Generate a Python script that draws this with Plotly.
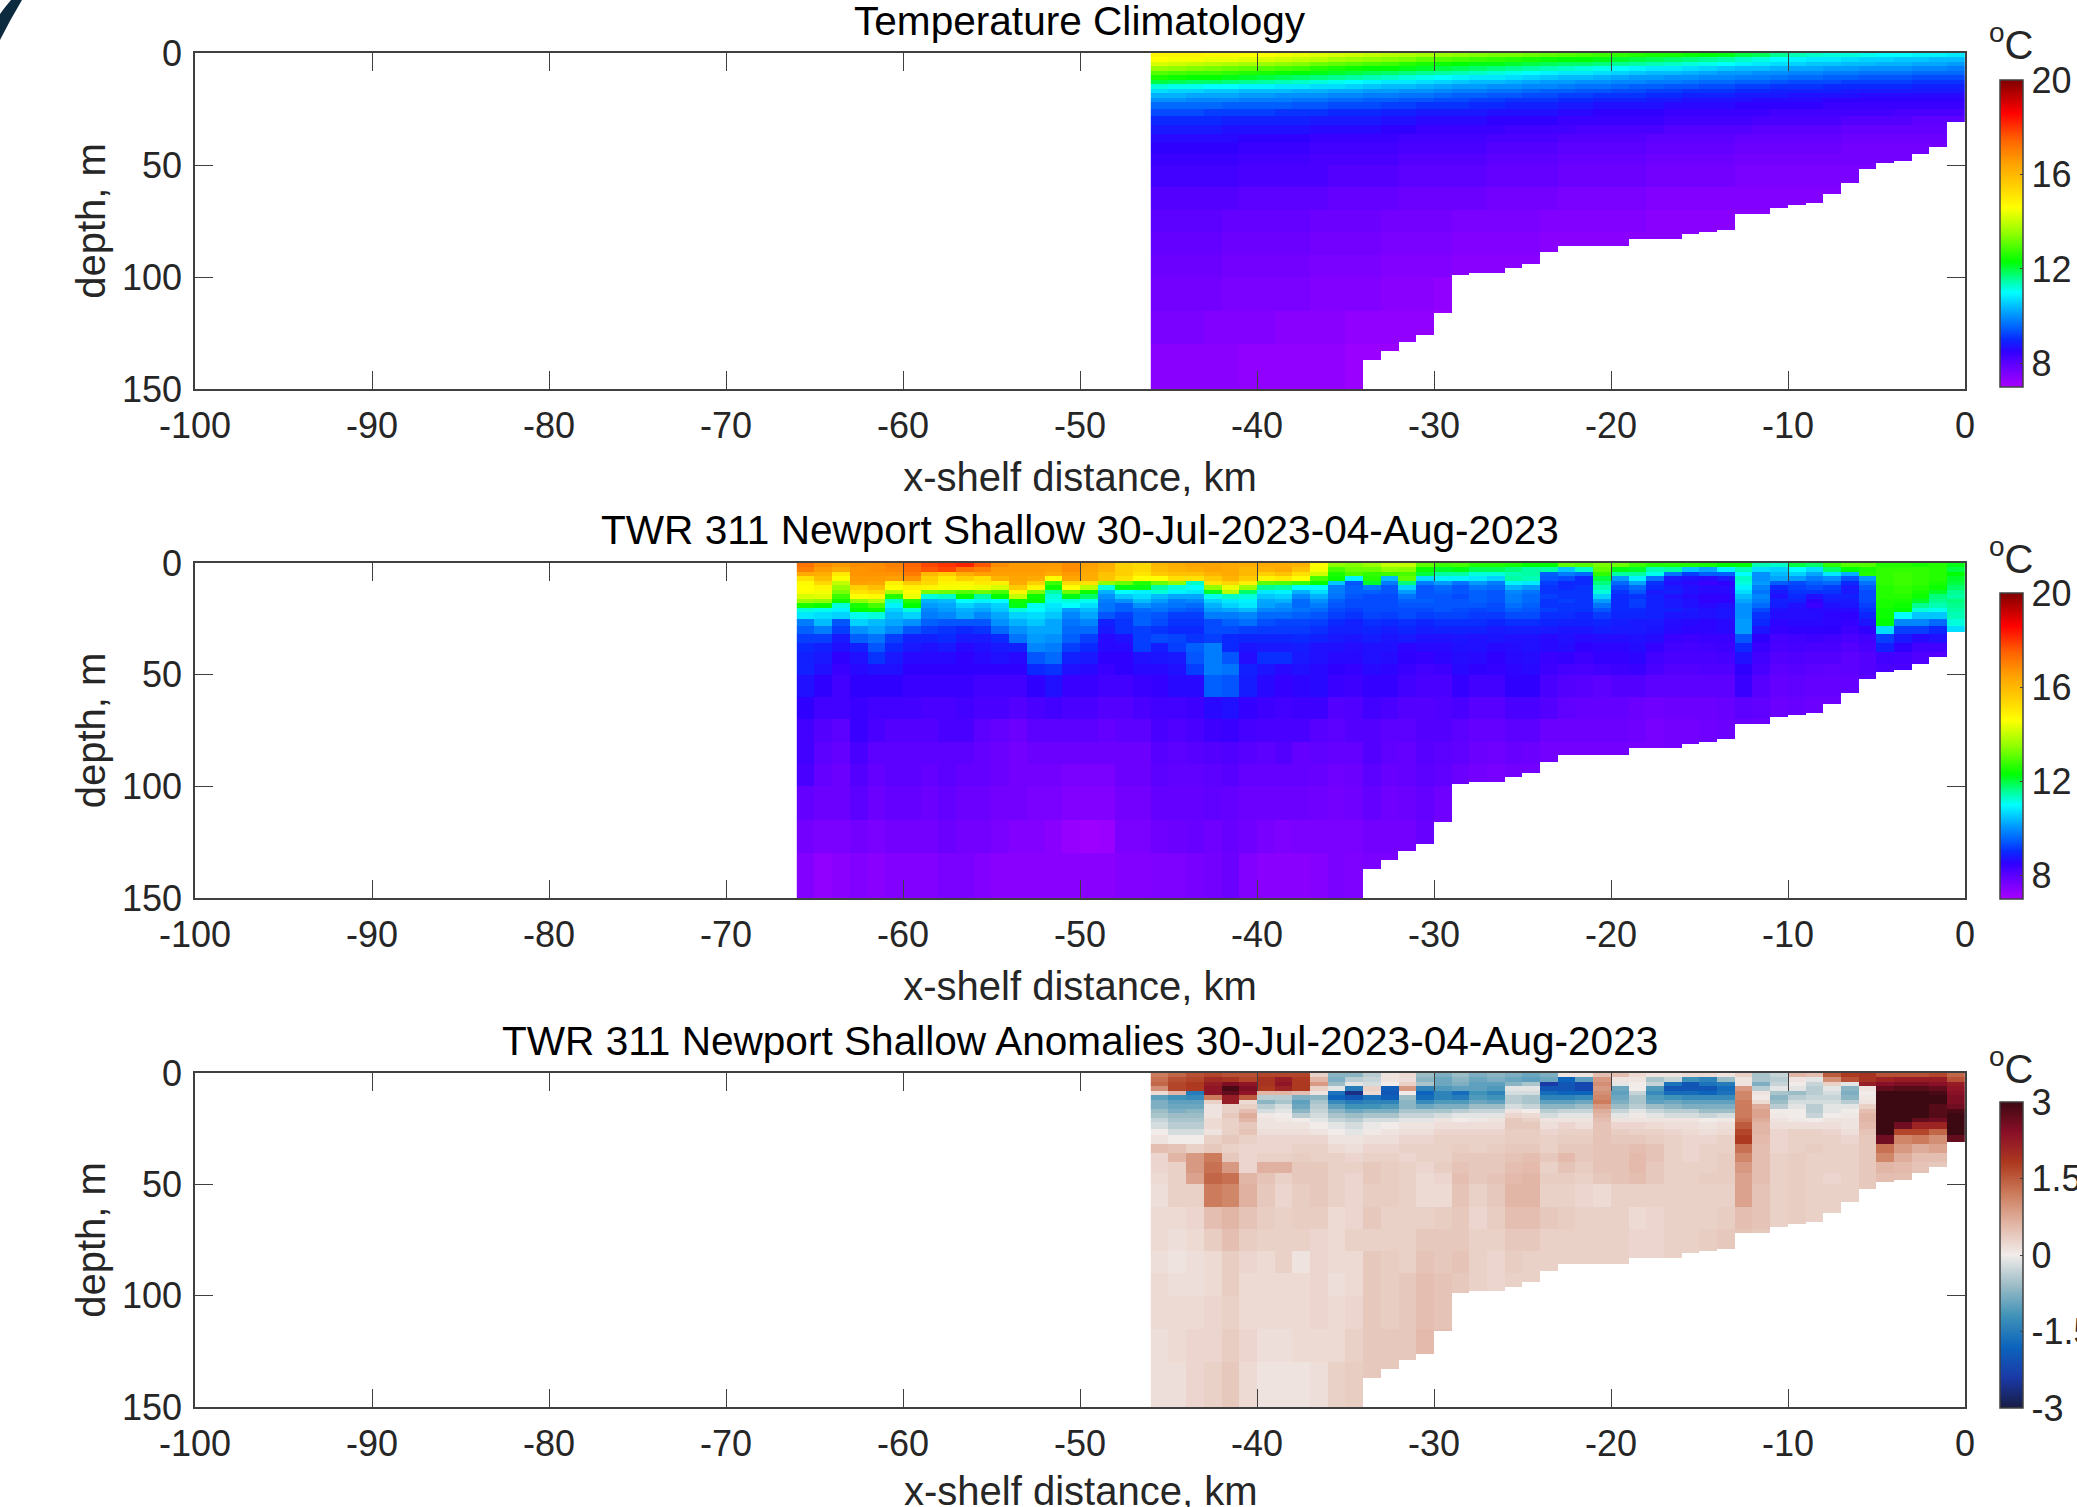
import numpy as np
import plotly.graph_objects as go

W, H = 2077, 1507
FONT = "Liberation Sans"

# depth bin edges (m) of the values
depth_edges = [0,2,4,6,8,10,12,14,16,18,20,22,25,28,32,36,40,45,50,60,70,80,90,100,115,130,150]

# sea floor depth for each 1 km column from -46 km to -1 km
bottom_depth = [150]*12 + [137,133,129,126,116,99,98,98,96,94,89,86,86,86,86,83,83,83,81,80,79,72,72,69,68,67,63,58,52,49,48,45,42,31]

# climatology, one list per depth bin, columns from -46 km eastwards
clim_rows = [
[14.8,14.8,14.8,14.7,14.7,14.6,14.6,14.5,14.4,14.3,14.2,14.1,14.0,13.9,13.8,13.7,13.6,13.5,13.4,13.3,13.3,13.2,13.1,13.0,12.9,12.8,12.7,12.6,12.5,12.5,12.4,12.3,12.2,12.0,11.9,11.6,11.4,11.3,11.2,11.2,11.1,11.0,11.0,10.9,10.9,10.8],
[14.6,14.5,14.5,14.4,14.4,14.3,14.2,14.1,14.0,13.9,13.7,13.6,13.5,13.4,13.3,13.1,13.0,12.9,12.8,12.7,12.6,12.5,12.4,12.3,12.3,12.2,12.1,12.0,11.9,11.8,11.7,11.6,11.5,11.3,11.2,11.0,10.9,10.8,10.8,10.7,10.6,10.6,10.5,10.5,10.4,10.4],
[14.2,14.1,14.0,13.9,13.8,13.7,13.6,13.5,13.4,13.2,13.1,13.0,12.9,12.8,12.6,12.5,12.4,12.3,12.2,12.2,12.1,12.0,11.9,11.8,11.8,11.7,11.6,11.5,11.4,11.3,11.2,11.1,11.0,10.9,10.8,10.7,10.6,10.5,10.5,10.4,10.4,10.3,10.3,10.2,10.2,10.1],
[13.6,13.5,13.4,13.3,13.2,13.1,13.0,12.9,12.8,12.6,12.5,12.4,12.3,12.3,12.2,12.1,12.0,11.9,11.8,11.7,11.6,11.5,11.4,11.3,11.2,11.1,11.0,10.9,10.8,10.8,10.7,10.6,10.5,10.4,10.4,10.3,10.2,10.2,10.1,10.1,10.0,10.0,10.0,9.9,9.9,9.8],
[13.0,12.9,12.8,12.8,12.7,12.6,12.5,12.4,12.3,12.2,12.1,12.0,11.9,11.8,11.7,11.6,11.5,11.4,11.3,11.2,11.1,11.0,10.9,10.8,10.8,10.7,10.6,10.5,10.4,10.4,10.3,10.2,10.1,10.1,10.0,10.0,9.9,9.9,9.8,9.8,9.7,9.7,9.7,9.6,9.6,9.6],
[12.5,12.4,12.3,12.3,12.2,12.1,12.0,11.9,11.8,11.7,11.6,11.5,11.4,11.3,11.2,11.1,11.0,10.9,10.8,10.8,10.7,10.6,10.5,10.4,10.4,10.3,10.2,10.1,10.1,10.0,10.0,9.9,9.9,9.8,9.8,9.7,9.6,9.6,9.5,9.5,9.4,9.4,9.4,9.3,9.3,9.3],
[12.0,11.9,11.8,11.8,11.7,11.6,11.5,11.4,11.3,11.2,11.1,11.0,10.9,10.8,10.8,10.7,10.6,10.5,10.4,10.4,10.3,10.2,10.1,10.1,10.0,10.0,9.9,9.9,9.8,9.8,9.7,9.6,9.6,9.5,9.5,9.4,9.3,9.3,9.3,9.2,9.2,9.2,9.2,9.1,9.1,9.1],
[11.2,11.1,11.1,11.0,11.0,10.9,10.9,10.8,10.8,10.7,10.7,10.6,10.5,10.4,10.4,10.3,10.2,10.1,10.1,10.0,10.0,9.9,9.9,9.8,9.7,9.7,9.6,9.5,9.5,9.4,9.4,9.3,9.3,9.2,9.2,9.1,9.1,9.1,9.0,9.0,9.0,9.0,9.0,8.9,8.9,8.9],
[10.7,10.6,10.6,10.5,10.5,10.4,10.4,10.4,10.3,10.3,10.2,10.2,10.1,10.1,10.0,10.0,9.9,9.8,9.8,9.7,9.7,9.6,9.5,9.5,9.4,9.4,9.3,9.3,9.2,9.2,9.1,9.1,9.1,9.0,9.0,8.9,8.9,8.9,8.9,8.8,8.8,8.8,8.8,8.8,8.8,8.8],
[10.3,10.3,10.2,10.2,10.2,10.1,10.1,10.0,10.0,10.0,9.9,9.9,9.8,9.8,9.7,9.7,9.6,9.5,9.5,9.4,9.4,9.3,9.3,9.2,9.2,9.1,9.1,9.1,9.0,9.0,8.9,8.9,8.9,8.8,8.8,8.8,8.7,8.7,8.7,8.7,8.6,8.6,8.6,8.6,8.6,8.6],
[10.0,10.0,9.9,9.9,9.9,9.8,9.8,9.8,9.7,9.7,9.6,9.6,9.5,9.5,9.4,9.4,9.3,9.3,9.2,9.2,9.1,9.1,9.1,9.0,9.0,8.9,8.9,8.9,8.8,8.8,8.7,8.7,8.7,8.7,8.6,8.6,8.6,8.6,8.5,8.5,8.5,8.5,8.5,8.5,8.5,8.5],
[9.6,9.6,9.6,9.6,9.5,9.5,9.5,9.5,9.4,9.4,9.3,9.3,9.3,9.2,9.2,9.1,9.1,9.1,9.0,9.0,8.9,8.9,8.9,8.8,8.8,8.7,8.7,8.7,8.7,8.6,8.6,8.6,8.6,8.5,8.5,8.5,8.5,8.5,8.4,8.4,8.4,8.4,8.4,8.4,8.4,8.4],
[9.3,9.3,9.3,9.2,9.2,9.2,9.2,9.1,9.1,9.1,9.0,9.0,9.0,8.9,8.9,8.8,8.8,8.8,8.8,8.7,8.7,8.7,8.7,8.6,8.6,8.5,8.5,8.5,8.5,8.4,8.4,8.4,8.4,8.4,8.4,8.3,8.3,8.3,8.3,8.3,8.3,8.3,8.2,8.2,8.2,8.2],
[9.0,9.0,9.0,9.0,8.9,8.9,8.9,8.9,8.9,8.8,8.8,8.8,8.8,8.7,8.7,8.6,8.6,8.6,8.6,8.5,8.5,8.5,8.5,8.4,8.4,8.4,8.4,8.4,8.4,8.3,8.3,8.3,8.3,8.3,8.2,8.2,8.2,8.2,8.2,8.1,8.1,8.1,8.1,8.0,8.0,8.0],
[8.8,8.8,8.8,8.8,8.7,8.7,8.7,8.7,8.7,8.6,8.6,8.6,8.6,8.5,8.5,8.4,8.4,8.4,8.4,8.4,8.3,8.3,8.3,8.3,8.2,8.2,8.2,8.2,8.2,8.1,8.1,8.1,8.1,8.1,8.0,8.0,8.0,8.0,8.0,7.9,7.9,7.9,7.9,7.9,7.9],
[8.6,8.6,8.6,8.6,8.6,8.5,8.5,8.5,8.5,8.4,8.4,8.4,8.4,8.4,8.3,8.3,8.3,8.3,8.3,8.2,8.2,8.2,8.2,8.1,8.1,8.1,8.1,8.1,8.0,8.0,8.0,8.0,8.0,7.9,7.9,7.9,7.9,7.9,7.9,7.8,7.8,7.8,7.8,7.8,7.8],
[8.5,8.5,8.5,8.5,8.5,8.4,8.4,8.4,8.4,8.3,8.3,8.3,8.3,8.3,8.2,8.2,8.2,8.2,8.2,8.1,8.1,8.1,8.1,8.0,8.0,8.0,8.0,8.0,7.9,7.9,7.9,7.9,7.9,7.8,7.8,7.8,7.8,7.8,7.8,7.7,7.7,7.7,7.7,7.7,7.7],
[8.4,8.4,8.4,8.4,8.4,8.3,8.3,8.3,8.3,8.2,8.2,8.2,8.2,8.2,8.1,8.1,8.1,8.1,8.1,8.0,8.0,8.0,8.0,7.9,7.9,7.9,7.9,7.9,7.8,7.8,7.8,7.8,7.8,7.7,7.7,7.7,7.7,7.7,7.7,7.7,7.7,7.7,7.7],
[8.3,8.3,8.3,8.3,8.3,8.2,8.2,8.2,8.2,8.2,8.1,8.1,8.1,8.1,8.0,8.0,8.0,8.0,8.0,7.9,7.9,7.9,7.9,7.8,7.8,7.8,7.8,7.8,7.7,7.7,7.7,7.7,7.7,7.6,7.6,7.6,7.6,7.6,7.6,7.6,7.6],
[8.1,8.1,8.1,8.1,8.1,8.0,8.0,8.0,8.0,8.0,7.9,7.9,7.9,7.9,7.8,7.8,7.8,7.8,7.8,7.7,7.7,7.7,7.7,7.6,7.6,7.6,7.6,7.6,7.5,7.5,7.5,7.5,7.5,7.5,7.5,7.5,7.5,7.5,7.5],
[8.0,8.0,8.0,8.0,7.9,7.9,7.9,7.9,7.9,7.8,7.8,7.8,7.8,7.7,7.7,7.7,7.7,7.6,7.6,7.6,7.6,7.6,7.5,7.5,7.5,7.5,7.5,7.5,7.4,7.4,7.4,7.4,7.4,7.4,7.4],
[7.9,7.9,7.9,7.9,7.8,7.8,7.8,7.8,7.8,7.7,7.7,7.7,7.7,7.6,7.6,7.6,7.6,7.5,7.5,7.5,7.5,7.5,7.4,7.4,7.4,7.4,7.4,7.4,7.4,7.4,7.4],
[7.8,7.8,7.8,7.8,7.7,7.7,7.7,7.7,7.7,7.6,7.6,7.6,7.6,7.5,7.5,7.5,7.5,7.4,7.4,7.4,7.4,7.4],
[7.7,7.7,7.7,7.7,7.6,7.6,7.6,7.6,7.6,7.5,7.5,7.5,7.5,7.4,7.4,7.4,7.3],
[7.6,7.6,7.6,7.5,7.5,7.5,7.5,7.4,7.4,7.4,7.4,7.3,7.3,7.3,7.3,7.3,7.2],
[7.4,7.4,7.4,7.4,7.4,7.3,7.3,7.3,7.3,7.3,7.3,7.2,7.2,7.2],
]

# anomalies, one list per 1 km column from -46 km eastwards, top to sea floor
anom_cols = [
[1.2,1.3,1.4,1.0,0.2,-1.0,-0.8,-0.8,-0.6,-0.5,-0.3,-0.2,0,0.1,0.5,0.25,0.25,0.2,0.15,0.2,0.2,0.15,0.2,0.2,0.15,0.15],
[1.4,1.6,1.7,1.7,0.6,-1.2,-1.0,-0.9,-0.8,-0.6,-0.5,-0.4,-0.2,0,0.45,0.6,0.3,0.3,0.3,0.2,0.15,0.1,0.15,0.2,0.2,0.15],
[1.6,1.7,1.8,1.8,-1.5,-1.3,-1.0,-0.9,-0.7,-0.6,-0.5,-0.4,-0.2,0,0.3,0.9,0.9,0.8,0.3,0.25,0.2,0.15,0.15,0.2,0.25,0.25],
[1.7,2.0,2.2,2.3,2.3,1.2,0.3,0.1,0.1,0.1,0.2,0.2,0.1,0.3,0.4,1.2,1.3,1.4,1.2,0.5,0.35,0.2,0.2,0.25,0.25,0.3],
[1.6,1.9,2.5,2.9,2.7,2.2,2.2,0.3,0.3,0.4,0.3,0.3,0.3,0.4,0.3,0.4,0.9,1.3,1.1,0.6,0.5,0.35,0.35,0.3,0.35,0.4],
[1.6,1.7,2.3,2.5,2.3,1.5,0.2,0.3,0.5,0.7,0.6,0.4,0.45,0.3,0.25,0.25,0.25,0.6,0.65,0.45,0.35,0.25,0.2,0.2,0.25,0.2],
[1.7,1.9,1.9,1.8,0.6,-0.4,-0.7,-0.4,-0.2,0.05,0.1,0.1,0.15,0.25,0.25,0.3,0.65,0.45,0.4,0.35,0.3,0.2,0.2,0.2,0.15,0.1],
[1.7,2.2,2.3,2.1,0.6,-0.4,-0.5,-0.2,-0.1,0,0.05,0.1,0.15,0.25,0.25,0.3,0.65,0.3,0.25,0.3,0.3,0.3,0.2,0.2,0.15,0.1],
[1.7,1.8,1.8,1.8,0.5,-0.8,-1.0,-0.9,-0.7,-0.4,0,0.1,0.15,0.25,0.3,0.35,0.4,0.4,0.35,0.35,0.3,0.1,0.2,0.2,0.2,0.1],
[0.3,0.6,0.9,0.3,0.1,-0.7,-0.5,-0.4,-0.3,-0.2,-0.1,0,0.1,0.25,0.3,0.3,0.4,0.4,0.4,0.35,0.25,0.25,0.25,0.25,0.2,0.15],
[-0.7,-0.8,-0.6,-0.1,-1.6,-1.8,-1.3,-1.0,-0.7,-0.5,-0.3,-0.1,0,0.1,0.2,0.3,0.3,0.3,0.3,0.2,0.2,0.2,0.15,0.2,0.2,0.3],
[-0.7,-0.4,-0.1,-1.5,-2.6,-2.0,-1.5,-1.2,-0.9,-0.6,-0.4,-0.2,-0.1,0.1,0.15,0.25,0.3,0.25,0.25,0.25,0.3,0.2,0.2,0.25,0.3,0.35],
[-0.4,-0.3,-0.2,0.3,0.2,-1.6,-1.4,-1.2,-0.8,-0.5,-0.2,-0.05,0.05,0.15,0.25,0.3,0.4,0.4,0.35,0.4,0.3,0.4,0.4,0.4,0.4,0.4],
[0.1,0.1,0,-1.9,-2.0,-1.9,-1.4,-1.1,-0.8,-0.5,-0.2,0,0.1,0.15,0.25,0.3,0.35,0.35,0.35,0.3,0.3,0.35,0.35,0.35,0.4,0.4],
[0.2,0.15,0.3,0.9,0,-0.6,-0.7,-0.7,-0.5,-0.3,-0.1,0.1,0.15,0.25,0.3,0.25,0.3,0.3,0.3,0.3,0.3,0.3,0.4,0.4,0.4],
[-0.6,-0.7,-0.5,-1.4,-1.8,-1.7,-1.3,-0.9,-0.5,-0.3,-0.1,0.1,0.15,0.25,0.3,0.3,0.25,0.2,0.2,0.3,0.4,0.45,0.5,0.5,0.55],
[-0.8,-0.9,-0.9,-1.1,-1.4,-1.4,-1.1,-0.8,-0.5,-0.2,0.1,0.15,0.25,0.3,0.3,0.3,0.35,0.25,0.2,0.35,0.4,0.4,0.45,0.45,0.5],
[-0.6,-0.7,-0.8,-1.0,-1.7,-1.5,-1.1,-0.8,-0.4,-0.1,0,0.15,0.25,0.3,0.35,0.4,0.45,0.5,0.45,0.4,0.4,0.45,0.4],
[-0.8,-0.9,-1.0,-1.0,-1.2,-1.1,-0.9,-0.6,-0.3,-0.1,0.05,0.15,0.25,0.3,0.3,0.4,0.4,0.4,0.3,0.25,0.3,0.3,0.3],
[-0.7,-0.8,-1.0,-1.1,-1.4,-1.2,-1.0,-0.6,-0.3,-0.1,0.1,0.15,0.25,0.3,0.35,0.4,0.4,0.45,0.4,0.35,0.3,0.25,0.25],
[-0.8,-0.9,-0.7,-0.1,-0.2,-0.4,-0.4,-0.2,0.1,0.25,0.4,0.4,0.35,0.35,0.4,0.45,0.5,0.55,0.6,0.5,0.4,0.35,0.3],
[-0.9,-1.0,-0.5,-0.1,-0.2,-0.5,-0.5,-0.3,0,0.2,0.3,0.4,0.35,0.35,0.4,0.5,0.55,0.6,0.6,0.5,0.4,0.3,0.3],
[-0.8,-0.9,-2.4,-2.0,-1.7,-1.4,-1.0,-0.7,-0.4,-0.2,0.1,0.15,0.25,0.3,0.3,0.4,0.3,0.35,0.3,0.4,0.3,0.3],
[0.1,-1.8,-2.0,-2.0,-1.8,-1.4,-1.0,-0.7,-0.3,-0.1,0.1,0.25,0.3,0.35,0.4,0.55,0.45,0.35,0.3,0.35,0.3,0.3],
[0.1,-1.0,-2.2,-2.2,-1.8,-1.3,-0.9,-0.6,-0.3,-0.1,0.1,0.15,0.3,0.35,0.4,0.4,0.35,0.3,0.25,0.3,0.3,0.3],
[0.5,0.9,1.0,0.9,1.0,1.1,1.2,0.9,0.7,0.6,0.5,0.45,0.45,0.45,0.45,0.45,0.45,0.4,0.2,0.3,0.3,0.3],
[0.5,0.1,-0.1,-0.9,-1.0,-0.9,-0.8,-0.6,-0.3,-0.1,0.1,0.25,0.35,0.4,0.45,0.45,0.45,0.45,0.3,0.3,0.3,0.3],
[0.2,0.1,0,0,-0.3,-0.5,-0.5,-0.4,-0.1,0.05,0.1,0.25,0.3,0.4,0.5,0.55,0.55,0.5,0.3,0.2,0.25,0.25],
[0.1,-0.5,-0.3,-1.1,-1.3,-1.1,-1.0,-0.6,-0.3,-0.1,0.1,0.2,0.3,0.35,0.45,0.45,0.4,0.4,0.3,0.25,0.25,0.25],
[0.1,-0.3,-1.6,-2.0,-1.7,-1.2,-0.9,-0.7,-0.4,-0.2,0.1,0.15,0.25,0.3,0.3,0.3,0.3,0.3,0.3,0.3,0.3,0.3],
[0.2,-1.2,-2.0,-2.0,-1.7,-1.3,-1.0,-0.8,-0.4,-0.2,0.1,0.15,0.2,0.25,0.25,0.25,0.3,0.3,0.3,0.3,0.3,0.3],
[0.2,-1.4,-1.6,-2.0,-1.8,-1.3,-1.0,-0.8,-0.6,-0.3,0,0.1,0.15,0.25,0.3,0.3,0.3,0.35,0.3,0.3,0.35],
[0.1,-0.6,-1.5,-1.7,-1.6,-1.3,-1.0,-0.8,-0.6,-0.2,0.05,0.15,0.2,0.3,0.3,0.35,0.35,0.35,0.3,0.35,0.4],
[0.3,0.1,0.1,0.9,1.1,1.1,1.2,1.2,1.2,1.2,1.3,1.5,1.7,1.8,1.3,1.1,0.9,0.8,0.8,0.5,0.45],
[-0.5,-0.5,-0.8,-0.4,0.1,0.05,0.2,0.7,0.8,0.8,0.7,0.6,0.6,0.55,0.5,0.5,0.5,0.5,0.45,0.45,0.4],
[-0.3,-0.4,-0.3,-0.1,-0.5,-0.7,-0.6,-0.4,0,0.05,0.1,0.15,0.25,0.25,0.25,0.3,0.3,0.3,0.3,0.3],
[0.6,0.1,0,-0.1,-0.6,-0.4,-0.2,-0.1,0,0,0.05,0.15,0.3,0.3,0.3,0.35,0.35,0.35,0.35,0.35],
[0.5,-0.1,-0.3,-0.4,-0.4,-0.3,-0.2,-0.4,-0.4,-0.3,0,0.15,0.3,0.3,0.35,0.3,0.3,0.3,0.3,0.3],
[1.5,1.0,0.3,-0.1,-0.2,-0.3,-0.2,-0.1,-0.1,0,0.1,0.15,0.25,0.3,0.3,0.3,0.3,0.25,0.3,0.3],
[1.8,1.6,-0.1,-0.7,-0.8,-0.7,-0.4,-0.1,0,0.05,0.1,0.1,0.15,0.25,0.3,0.3,0.3,0.3,0.3],
[1.9,1.9,2.2,0.1,0,0.05,0.1,0.3,0.5,0.6,0.6,0.55,0.45,0.4,0.4,0.4,0.4,0.4,0.4],
[1.6,2.1,2.4,2.7,3.0,3.2,3.4,3.6,3.7,3.9,3.9,4.0,4.0,2.6,1.3,1.1,0.6,0.5],
[1.6,2.2,2.5,2.8,3.1,3.3,3.5,3.6,3.7,3.8,3.8,2.6,1.7,1.1,0.9,0.7,0.55,0.5],
[1.6,2.2,2.5,2.8,3.1,3.3,3.4,3.5,3.3,3.0,2.7,2.1,1.7,1.2,0.7,0.5,0.45],
[1.7,2.2,2.4,2.7,2.9,3.1,3.0,2.8,2.8,2.8,2.6,2.1,1.4,1.0,0.8,0.5,0.4],
[1.4,1.6,2.2,2.3,2.4,2.5,2.5,2.6,2.9,3.0,3.0,3.0,3.0,2.7],
]

# observed section west of -46 km, one list per 1 km column from -66 km
obs_west_cols = [
[17.2,17.0,16.3,15.2,14.7,14.6,14.6,14.2,13.6,12.5,11.2,10.8,9.8,9.5,9.2,9.0,8.9,8.9,8.7,8.5,8.3,8.3,8.2,7.9,7.7,7.5],
[16.8,16.6,16.2,15.9,15.3,14.8,14.5,14.3,13.5,12.4,11.1,10.7,10.4,9.8,9.2,8.9,8.8,8.7,8.5,8.3,8.1,8.0,7.9,7.8,7.6,7.3],
[16.6,16.3,15.0,14.6,14.0,13.6,13.3,12.8,12.4,11.2,10.9,10.6,9.4,9.2,8.8,8.7,8.5,8.4,8.3,8.3,8.0,7.9,7.8,7.8,7.6,7.4],
[16.8,16.7,16.7,16.6,16.5,15.5,15.1,14.6,13.5,12.5,12.3,11.1,10.6,10.0,9.5,8.9,8.7,8.6,8.5,8.4,8.4,8.2,8.1,8.0,7.7,7.5],
[16.8,16.8,16.7,16.6,16.4,15.9,15.3,14.7,13.8,12.9,12.4,11.2,10.4,10.2,9.7,9.4,9.1,8.7,8.5,8.3,8.2,8.0,7.9,7.8,7.6,7.4],
[17.0,16.9,16.7,16.5,14.9,14.6,13.8,12.6,11.3,10.9,10.6,10.4,10.2,9.9,9.2,9.0,8.8,8.7,8.5,8.3,8.1,8.0,8.0,7.9,7.7,7.5],
[17.4,17.3,17.1,16.7,15.6,14.9,14.6,14.4,12.6,12.3,11.2,10.6,10.0,9.4,8.9,8.8,8.6,8.5,8.4,8.3,8.1,8.0,8.0,7.9,7.7,7.5],
[17.8,17.6,16.0,15.5,15.3,14.8,13.3,11.2,10.3,10.1,9.9,9.8,9.5,9.2,8.9,8.7,8.6,8.5,8.4,8.2,8.1,8.0,7.9,7.8,7.7,7.5],
[18.0,17.8,15.6,15.0,14.8,14.5,13.2,11.3,10.4,10.2,10.1,9.9,9.4,9.1,9.0,8.8,8.6,8.5,8.4,8.2,8.2,8.0,8.0,7.9,7.8,7.6],
[18.2,17.2,16.2,15.5,14.8,14.5,13.0,12.3,11.0,10.6,10.3,10.2,9.4,9.0,8.8,8.6,8.5,8.5,8.4,8.3,8.2,8.0,7.9,7.8,7.7,7.6],
[17.6,17.0,16.5,15.2,15.0,14.4,13.2,11.5,10.9,10.4,10.2,9.9,9.4,9.1,8.8,8.7,8.6,8.5,8.3,8.2,8.0,7.9,7.9,7.8,7.7,7.5],
[16.8,16.6,16.5,16.1,14.9,14.2,12.9,12.3,11.0,10.6,10.5,10.2,10.0,9.6,9.0,8.8,8.7,8.5,8.3,8.2,7.9,7.8,7.8,7.7,7.6,7.4],
[16.6,16.6,16.5,16.4,16.3,15.6,14.8,14.0,12.4,12.2,11.2,10.6,10.3,10.0,9.7,8.9,8.6,8.5,8.3,8.1,7.8,7.7,7.7,7.7,7.5,7.4],
[16.6,16.6,16.5,16.3,15.5,14.8,13.3,12.4,12.3,11.1,11.0,10.7,10.5,10.2,10.1,9.9,9.4,9.0,8.5,8.2,8.0,7.8,7.7,7.6,7.5,7.4],
[16.6,16.5,16.2,14.6,12.8,12.4,11.5,11.2,11.1,10.8,10.7,10.5,10.2,10.2,10.0,9.8,9.6,9.1,8.7,8.3,8.0,7.8,7.7,7.6,7.4,7.4],
[16.8,16.8,16.6,16.4,15.3,14.6,13.2,12.2,11.2,11.0,10.1,9.9,9.7,9.6,9.5,9.2,8.9,8.7,8.4,8.2,8.0,7.8,7.6,7.5,7.25,7.4],
[16.5,16.4,16.3,16.2,15.2,13.9,12.4,11.8,11.1,10.7,10.4,10.2,9.9,9.6,9.2,9.0,8.8,8.6,8.4,8.2,8.0,7.8,7.6,7.5,7.15,7.4],
[16.2,16.1,15.8,15.7,13.5,11.2,10.3,10.0,9.8,9.7,9.7,9.4,8.9,8.8,8.6,8.6,8.5,8.4,8.3,8.1,7.9,7.8,7.6,7.5,7.2,7.4],
[15.5,15.5,15.5,15.2,13.2,12.2,11.0,10.5,10.0,9.5,9.5,9.2,9.1,9.1,8.7,8.6,8.5,8.5,8.3,8.1,8.0,7.8,7.8,7.7,7.6,7.5],
[15.3,15.3,15.1,14.6,12.6,12.2,10.9,10.7,10.4,10.0,9.6,9.5,9.5,9.2,9.2,9.2,8.7,8.6,8.4,8.2,8.0,7.8,7.8,7.7,7.6,7.5],
]

temp_ticks = [8, 12, 16, 20]
anom_ticks = [-3, -1.5, 0, 1.5, 3]
x_ticks = list(range(-100, 1, 10))
y_ticks = [0, 50, 100, 150]
x_label = "x-shelf distance, km"
panel_titles = ["Temperature Climatology",
                "TWR 311 Newport Shallow 30-Jul-2023-04-Aug-2023",
                "TWR 311 Newport Shallow Anomalies 30-Jul-2023-04-Aug-2023"]

TEMP_MIN, TEMP_MAX = 7, 20
temp_stops = [(7,"#a800ff"),(8,"#5c00ff"),(8.5,"#3000ff"),(9,"#0a28ff"),(9.5,"#0060ff"),(10,"#0090ff"),
              (11,"#00ffff"),(11.6,"#00ff90"),(12.3,"#00ff00"),(13.5,"#90ff00"),(14.6,"#ffff00"),
              (15.5,"#ffd000"),(16.5,"#ffa000"),(17.5,"#ff6000"),(18.6,"#ff0000"),(20,"#800000")]
temp_scale = [[(t-TEMP_MIN)/(TEMP_MAX-TEMP_MIN), c] for t, c in temp_stops]
anom_scale = [[0,"#181c43"],[0.1,"#1a3aa8"],[0.2,"#0c64bc"],[0.3,"#3f92b8"],[0.4,"#9cbcc6"],[0.5,"#f1ecea"],
              [0.6,"#e2b6a6"],[0.7,"#cc7c5c"],[0.8,"#ad3a20"],[0.9,"#8a0f28"],[1,"#3c0912"]]

def pad(rows, n):
    out = np.full((len(rows), n), np.nan)
    for i, r in enumerate(rows):
        out[i, :min(len(r), n)] = r[:n]
    return out

def to_metres(coarse, bottoms):
    """Repeat each depth bin over its metres and blank what lies under the sea floor."""
    fine = np.repeat(coarse, np.diff(depth_edges), axis=0)
    for j, b in enumerate(bottoms):
        fine[int(b):, j] = np.nan
    return fine

n_bins = len(depth_edges) - 1
clim = pad(clim_rows, 46)
anom = pad(anom_cols, n_bins).T
obs_west = pad(obs_west_cols, n_bins).T
obs = np.hstack([obs_west, clim + anom])
bottoms_obs = [150]*20 + bottom_depth

x_east = np.arange(-46, 1)
x_obs = np.arange(-66, 1)
y_m = np.arange(0, 151)

def px_y(p):
    return 1 - p/H

panels = [(53, 389), (563, 898), (1073, 1407)]
bars = [(80, 387), (593, 899), (1102, 1408)]
title_y = [21, 530, 1041]
unit_y = [42, 556, 1066]

fig = go.Figure()
traces = [(x_east, to_metres(clim, bottom_depth), temp_scale, TEMP_MIN, TEMP_MAX, temp_ticks),
          (x_obs, to_metres(obs, bottoms_obs), temp_scale, TEMP_MIN, TEMP_MAX, temp_ticks),
          (x_east, to_metres(anom, bottom_depth), anom_scale, -3, 3, anom_ticks)]
for i, (xs, zs, cs, zmin, zmax, cticks) in enumerate(traces):
    suffix = "" if i == 0 else str(i+1)
    fig.add_trace(go.Heatmap(
        x=xs, y=y_m, z=zs, colorscale=cs, zmin=zmin, zmax=zmax, hoverongaps=False,
        xaxis="x"+suffix, yaxis="y"+suffix,
        colorbar=dict(x=2000/W, xanchor="left", xpad=0, ypad=0, y=px_y(bars[i][1]), yanchor="bottom",
                      lenmode="fraction", len=(bars[i][1]-bars[i][0])/H, thickness=23, thicknessmode="pixels",
                      tickmode="array", tickvals=cticks, ticktext=[f"{t:g}" for t in cticks],
                      ticks="inside", ticklen=3, tickcolor="#404040", tickwidth=1,
                      tickfont=dict(family=FONT, size=36, color="#262626"),
                      outlinecolor="#404040", outlinewidth=1.5, borderwidth=0),
    ))
    axis_common = dict(showgrid=False, zeroline=False, showline=True, linecolor="#404040", linewidth=1.5,
                       ticks="inside", ticklen=18, tickwidth=1.2, tickcolor="#404040", mirror="ticks",
                       tickfont=dict(family=FONT, size=36, color="#262626"), automargin=False)
    x_title = dict(text=x_label, font=dict(family=FONT, size=40, color="#262626"), standoff=18) if i < 2 else None
    fig.layout["xaxis"+suffix] = dict(axis_common, domain=[195/W, 1965/W], range=[-100, 0],
        tickmode="array", tickvals=x_ticks, ticktext=[str(t) for t in x_ticks], anchor="y"+suffix, ticklabelstandoff=4,
        title=x_title)
    fig.layout["yaxis"+suffix] = dict(axis_common, domain=[px_y(panels[i][1]), px_y(panels[i][0])], range=[150, 0],
        tickmode="array", tickvals=y_ticks, anchor="x"+suffix, ticklabelstandoff=4,
        title=dict(text="depth, m", font=dict(family=FONT, size=40, color="#262626"), standoff=4))
    fig.add_annotation(xref="paper", yref="paper", x=1080/W, y=px_y(title_y[i]), text=panel_titles[i],
                       showarrow=False, xanchor="center", yanchor="middle",
                       font=dict(family=FONT, size=40.6, color="black"))
    fig.add_annotation(xref="paper", yref="paper", x=2011/W, y=px_y(unit_y[i]), text="<sup>o</sup>C",
                       showarrow=False, xanchor="center", yanchor="middle",
                       font=dict(family=FONT, size=40, color="#262626"))

# The lowest axis title runs off the page bottom, and an axis title would be pulled back inside it
fig.add_annotation(xref="paper", yref="paper", x=1080/W, y=px_y(1491), text=x_label, showarrow=False,
                   xanchor="center", yanchor="middle", font=dict(family=FONT, size=40, color="#262626"))

fig.add_shape(type="path", xref="paper", yref="paper", layer="above", line_width=0, fillcolor="#0d2b3e",
              path=f"M {11/W} 1 L {22/W} 1 Q {10/W} {px_y(20)} 0 {px_y(40)} L 0 {px_y(14)} Q {5/W} {px_y(7)} {11/W} 1 Z")

fig.update_layout(width=W, height=H, autosize=False, showlegend=False,
                  margin=dict(l=0, r=0, t=0, b=0, pad=0, autoexpand=False),
                  paper_bgcolor="white", plot_bgcolor="white", font=dict(family=FONT))

fig.write_html("out.html", config={"displayModeBar": False},
               post_script="document.body.style.margin='0';document.body.style.overflow='hidden';")
